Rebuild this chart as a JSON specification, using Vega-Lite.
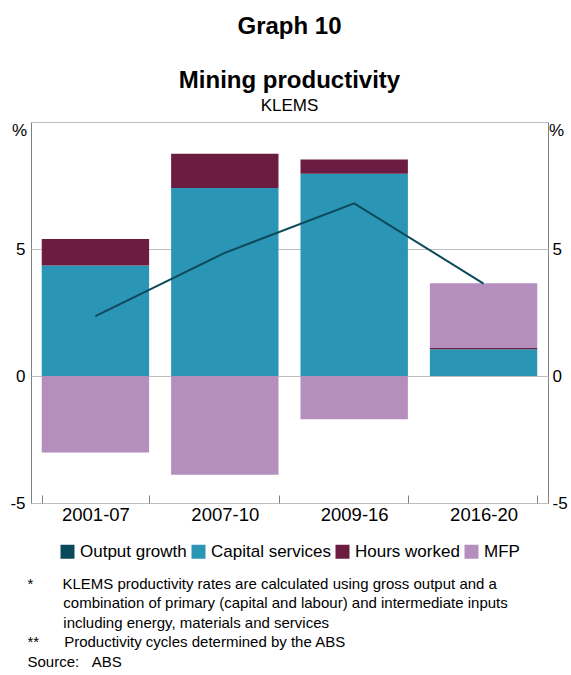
{
  "$schema": "https://vega.github.io/schema/vega-lite/v6.json",
  "autosize": "none",
  "width": 517,
  "height": 381,
  "padding": {"left": 31, "top": 122, "right": 23, "bottom": 172},
  "background": "white",
  "config": {
    "font": "Liberation Sans",
    "view": {"stroke": "#808080", "strokeWidth": 1}
  },
  "title": {
    "text": ["Graph 10", "Mining productivity"],
    "subtitle": "KLEMS",
    "fontSize": 24,
    "fontWeight": "bold",
    "lineHeight": 54,
    "color": "#000000",
    "subtitleFontSize": 17,
    "subtitleColor": "#000000",
    "subtitlePadding": 5,
    "anchor": "middle",
    "offset": 7
  },
  "datasets": {
    "bars": [
      {"period": "2001-07", "series": "Capital services", "value": 4.35},
      {"period": "2001-07", "series": "Hours worked", "value": 1.04},
      {"period": "2001-07", "series": "MFP", "value": -3.01},
      {"period": "2007-10", "series": "Capital services", "value": 7.40},
      {"period": "2007-10", "series": "Hours worked", "value": 1.35},
      {"period": "2007-10", "series": "MFP", "value": -3.89},
      {"period": "2009-16", "series": "Capital services", "value": 7.96},
      {"period": "2009-16", "series": "Hours worked", "value": 0.56},
      {"period": "2009-16", "series": "MFP", "value": -1.70},
      {"period": "2016-20", "series": "Capital services", "value": 1.05},
      {"period": "2016-20", "series": "Hours worked", "value": 0.05},
      {"period": "2016-20", "series": "MFP", "value": 2.55}
    ],
    "line": [
      {"period": "2001-07", "series": "Output growth", "value": 2.36},
      {"period": "2007-10", "series": "Output growth", "value": 4.85},
      {"period": "2009-16", "series": "Output growth", "value": 6.80},
      {"period": "2016-20", "series": "Output growth", "value": 3.64}
    ]
  },
  "layer": [
    {
      "data": {"name": "bars"},
      "mark": {"type": "bar"},
      "encoding": {
        "x": {
          "field": "period",
          "type": "nominal",
          "sort": null,
          "scale": {"paddingInner": 0.17, "paddingOuter": 0.083},
          "axis": {
            "labelAngle": 0,
            "labelFontSize": 18.5,
            "labelColor": "#000000",
            "labelPadding": 10,
            "domain": false,
            "ticks": true,
            "tickBand": "extent",
            "tickSize": -8,
            "tickColor": "#808080",
            "grid": false,
            "title": [
              "*\u00a0\u00a0\u00a0\u00a0\u00a0\u00a0\u00a0KLEMS productivity rates are calculated using gross output and a",
              "\u200b\u00a0\u00a0\u00a0\u00a0\u00a0\u00a0\u00a0\u00a0\u2006combination of primary (capital and labour) and intermediate inputs",
              "\u200b\u00a0\u00a0\u00a0\u00a0\u00a0\u00a0\u00a0\u00a0\u2006including energy, materials and services",
              "**\u00a0\u00a0\u00a0\u00a0\u00a0\u00a0Productivity cycles determined by the ABS",
              "Source:\u00a0\u00a0\u00a0ABS"
            ],
            "titleFontSize": 15,
            "titleFontWeight": "normal",
            "titleColor": "#000000",
            "titleAlign": "left",
            "titleAnchor": "start",
            "titleBaseline": "top",
            "titleLineHeight": 19.5,
            "titleX": -4,
            "titleY": 73
          }
        },
        "y": {
          "field": "value",
          "type": "quantitative",
          "stack": "zero",
          "scale": {"domain": [-5, 10], "nice": false, "zero": false},
          "axis": {
            "orient": "left",
            "values": [-5, 0, 5, 10],
            "labelExpr": "datum.value == 10 ? '' : toString(datum.value)",
            "labelFontSize": 17,
            "labelColor": "#000000",
            "labelPadding": 6,
            "labelFlush": false,
            "ticks": false,
            "domain": false,
            "grid": true,
            "gridColor": "#bfbfbf",
            "title": "%",
            "titleAngle": 0,
            "titleFontSize": 17,
            "titleFontWeight": "normal",
            "titleColor": "#000000",
            "titleAlign": "center",
            "titleBaseline": "middle",
            "titleX": -12,
            "titleY": 8
          }
        },
        "color": {
          "field": "series",
          "type": "nominal",
          "scale": {
            "domain": ["Output growth", "Capital services", "Hours worked", "MFP"],
            "range": ["#0c4a5b", "#2a95b5", "#6b1c40", "#b48ebd"]
          },
          "legend": {
            "orient": "none",
            "legendX": 28,
            "legendY": 421,
            "direction": "horizontal",
            "title": null,
            "symbolType": "square",
            "symbolSize": 196,
            "symbolStrokeWidth": 0,
            "labelFontSize": 17,
            "labelColor": "#000000",
            "labelOffset": 4,
            "columnPadding": 3
          }
        },
        "order": {"field": "series", "type": "nominal", "sort": "ascending"}
      }
    },
    {
      "mark": {"type": "rule", "color": "#333333", "strokeWidth": 1},
      "encoding": {
        "y": {"datum": 0, "type": "quantitative", "axis": null}
      }
    },
    {
      "data": {"name": "line"},
      "mark": {"type": "line", "strokeWidth": 2},
      "encoding": {
        "x": {"field": "period", "type": "nominal", "sort": null},
        "y": {
          "field": "value",
          "type": "quantitative",
          "axis": {
            "orient": "right",
            "values": [-5, 0, 5, 10],
            "labelExpr": "datum.value == 10 ? '' : toString(datum.value)",
            "labelFontSize": 17,
            "labelColor": "#000000",
            "labelPadding": 4,
            "labelFlush": false,
            "ticks": false,
            "domain": false,
            "grid": false,
            "title": "%",
            "titleAngle": 0,
            "titleFontSize": 17,
            "titleFontWeight": "normal",
            "titleColor": "#000000",
            "titleAlign": "center",
            "titleBaseline": "middle",
            "titleX": 8,
            "titleY": 8
          }
        },
        "color": {"field": "series", "type": "nominal"}
      }
    }
  ],
  "resolve": {"scale": {"y": "shared"}, "axis": {"y": "independent"}}
}
